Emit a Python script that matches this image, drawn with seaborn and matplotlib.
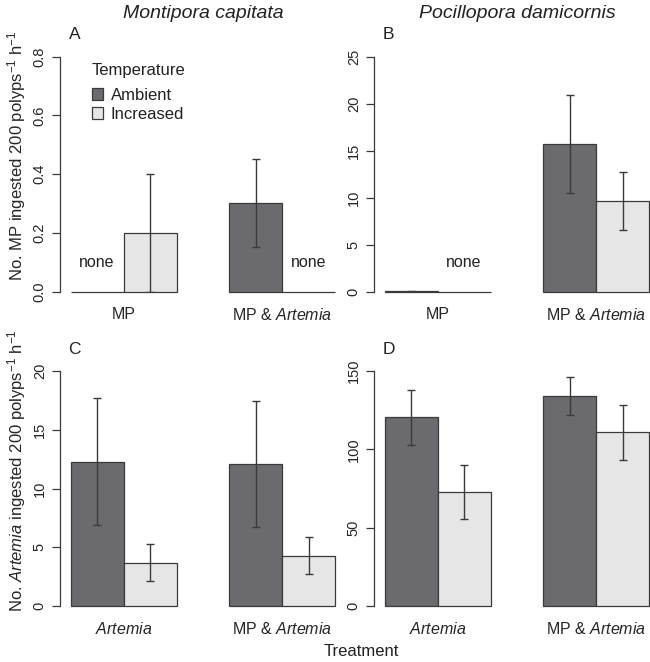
import numpy as np
import pandas as pd
import matplotlib
matplotlib.use("Agg")
import matplotlib.pyplot as plt
import seaborn as sns

sns.set_theme(style="white")
plt.rcParams['font.family'] = ['Liberation Sans', 'DejaVu Sans']
plt.rcParams['mathtext.fontset'] = 'custom'
plt.rcParams['mathtext.rm'] = 'Liberation Sans'
plt.rcParams['mathtext.it'] = 'Liberation Sans:italic'
plt.rcParams['text.color'] = '#222222'

# ---- data ----
temps = ['Ambient', 'Increased']
colors = ['#6b6b6f', '#e6e6e6']

# A: Montipora, MP ingested
a_treat = ['MP', 'MP & Artemia']
a_amb = [0.0, 0.30]
a_amb_se = [0.0, 0.15]
a_inc = [0.20, 0.0]
a_inc_se = [0.20, 0.0]
a_none = [(0, 0), (1, 1)]   # (treatment, temperature) with no data

# B: Pocillopora, MP ingested
b_treat = ['MP', 'MP & Artemia']
b_amb = [0.05, 15.7]
b_amb_se = [0.05, 5.2]
b_inc = [0.0, 9.6]
b_inc_se = [0.0, 3.1]
b_none = [(0, 1)]

# C: Montipora, Artemia ingested
c_treat = ['Artemia', 'MP & Artemia']
c_amb = [12.3, 12.1]
c_amb_se = [5.4, 5.4]
c_inc = [3.7, 4.3]
c_inc_se = [1.6, 1.6]

# D: Pocillopora, Artemia ingested
d_treat = ['Artemia', 'MP & Artemia']
d_amb = [120.5, 134.0]
d_amb_se = [17.5, 12.0]
d_inc = [73.0, 111.0]
d_inc_se = [17.2, 17.5]

tick_labels_mp = ['MP', r'MP & $\mathit{Artemia}$']
tick_labels_art = [r'$\mathit{Artemia}$', r'MP & $\mathit{Artemia}$']

ylab_mp = r'No. MP ingested 200 polyps$^{-1}$ h$^{-1}$'
ylab_art = r'No. $\mathit{Artemia}$ ingested 200 polyps$^{-1}$ h$^{-1}$'

edge = '#3a3a3a'
W, H = 650, 662
fig = plt.figure(figsize=(W / 100, H / 100), dpi=100)


def panel(rect, treat, amb, amb_se, inc, inc_se, ymax, yticks, ticklabels,
          letter, ylabel=None, none=(), legend=False):
    ax = fig.add_axes(rect)
    df = pd.DataFrame({
        'Treatment': treat * 2,
        'Temperature': [temps[0]] * len(treat) + [temps[1]] * len(treat),
        'value': list(amb) + list(inc),
    })
    sns.barplot(data=df, x='Treatment', y='value', hue='Temperature',
                hue_order=temps, palette=colors, width=2 / 3, gap=0,
                errorbar=None, edgecolor=edge, linewidth=0.9,
                saturation=1, ax=ax, legend=legend)
    for p in ax.patches:
        p.set_clip_on(False)
    for cont, vals, errs in zip(ax.containers, [amb, inc], [amb_se, inc_se]):
        for p, v, e in zip(cont.patches, vals, errs):
            if e > 0:
                ax.errorbar(p.get_x() + p.get_width() / 2, v, yerr=e,
                            fmt='none', ecolor=edge, elinewidth=1,
                            capsize=3, capthick=1)
    for ti, hi in none:
        p = ax.containers[hi].patches[ti]
        ax.text(p.get_x() + p.get_width() / 2, ymax * 0.125, 'none',
                ha='center', va='center', fontsize=11.5)
    ax.set_xlim(-0.4, 1.4)
    ax.set_ylim(0, ymax)
    ax.set_yticks(yticks)
    ax.set_xticks([0, 1])
    ax.set_xticklabels(ticklabels, fontsize=11.5)
    ax.tick_params(axis='x', length=0, pad=11)
    ax.tick_params(axis='y', length=5.5, width=0.9, color=edge, pad=4,
                   labelsize=10.5, labelrotation=90, direction='out', left=True)
    for t in ax.get_yticklabels():
        t.set_va('center')
    for s in ['top', 'right', 'bottom']:
        ax.spines[s].set_visible(False)
    ax.spines['left'].set_bounds(0, ymax)
    ax.spines['left'].set_color(edge)
    ax.spines['left'].set_linewidth(0.9)
    ax.set_xlabel('')
    if ylabel:
        ax.set_ylabel(ylabel, fontsize=12)
        ax.yaxis.set_label_coords(-0.112, 0.577)
    else:
        ax.set_ylabel('')
    ax.text(0.052, 1.093, letter, transform=ax.transAxes, ha='center',
            va='center', fontsize=12.5)
    if legend:
        handles, labels = ax.get_legend_handles_labels()
        ax.legend(handles, labels, title='Temperature', frameon=False,
                  loc='upper left', bbox_to_anchor=(0.082, 1.008),
                  fontsize=12, title_fontsize=12, alignment='left',
                  handlelength=0.7, handleheight=0.7, handletextpad=0.45,
                  labelspacing=0.22, borderpad=0)
        ax.get_legend()._legend_box.sep = 7
    return ax


top_b, bot_b, ph = (H - 291.5) / H, (H - 606) / H, 234.8 / H
lw_, rw_ = 60 / W, 374 / W
aw = 286 / W

panel([lw_, top_b, aw, ph], a_treat, a_amb, a_amb_se, a_inc, a_inc_se,
      0.8, [0.0, 0.2, 0.4, 0.6, 0.8], tick_labels_mp, 'A', ylab_mp,
      none=a_none, legend=True)
panel([rw_, top_b, aw, ph], b_treat, b_amb, b_amb_se, b_inc, b_inc_se,
      25, [0, 5, 10, 15, 20, 25], tick_labels_mp, 'B', none=b_none)
panel([lw_, bot_b, aw, ph], c_treat, c_amb, c_amb_se, c_inc, c_inc_se,
      20, [0, 5, 10, 15, 20], tick_labels_art, 'C', ylab_art)
panel([rw_, bot_b, aw, ph], d_treat, d_amb, d_amb_se, d_inc, d_inc_se,
      150, [0, 50, 100, 150], tick_labels_art, 'D')

fig.text(203 / W, 1 - 13 / H, 'Montipora capitata', style='italic',
         ha='center', va='center', fontsize=14)
fig.text(517 / W, 1 - 13 / H, 'Pocillopora damicornis', style='italic',
         ha='center', va='center', fontsize=14)
fig.text(361 / W, 1 - 652 / H, 'Treatment', ha='center', va='center',
         fontsize=12)

fig.savefig('out.png', dpi=100)
